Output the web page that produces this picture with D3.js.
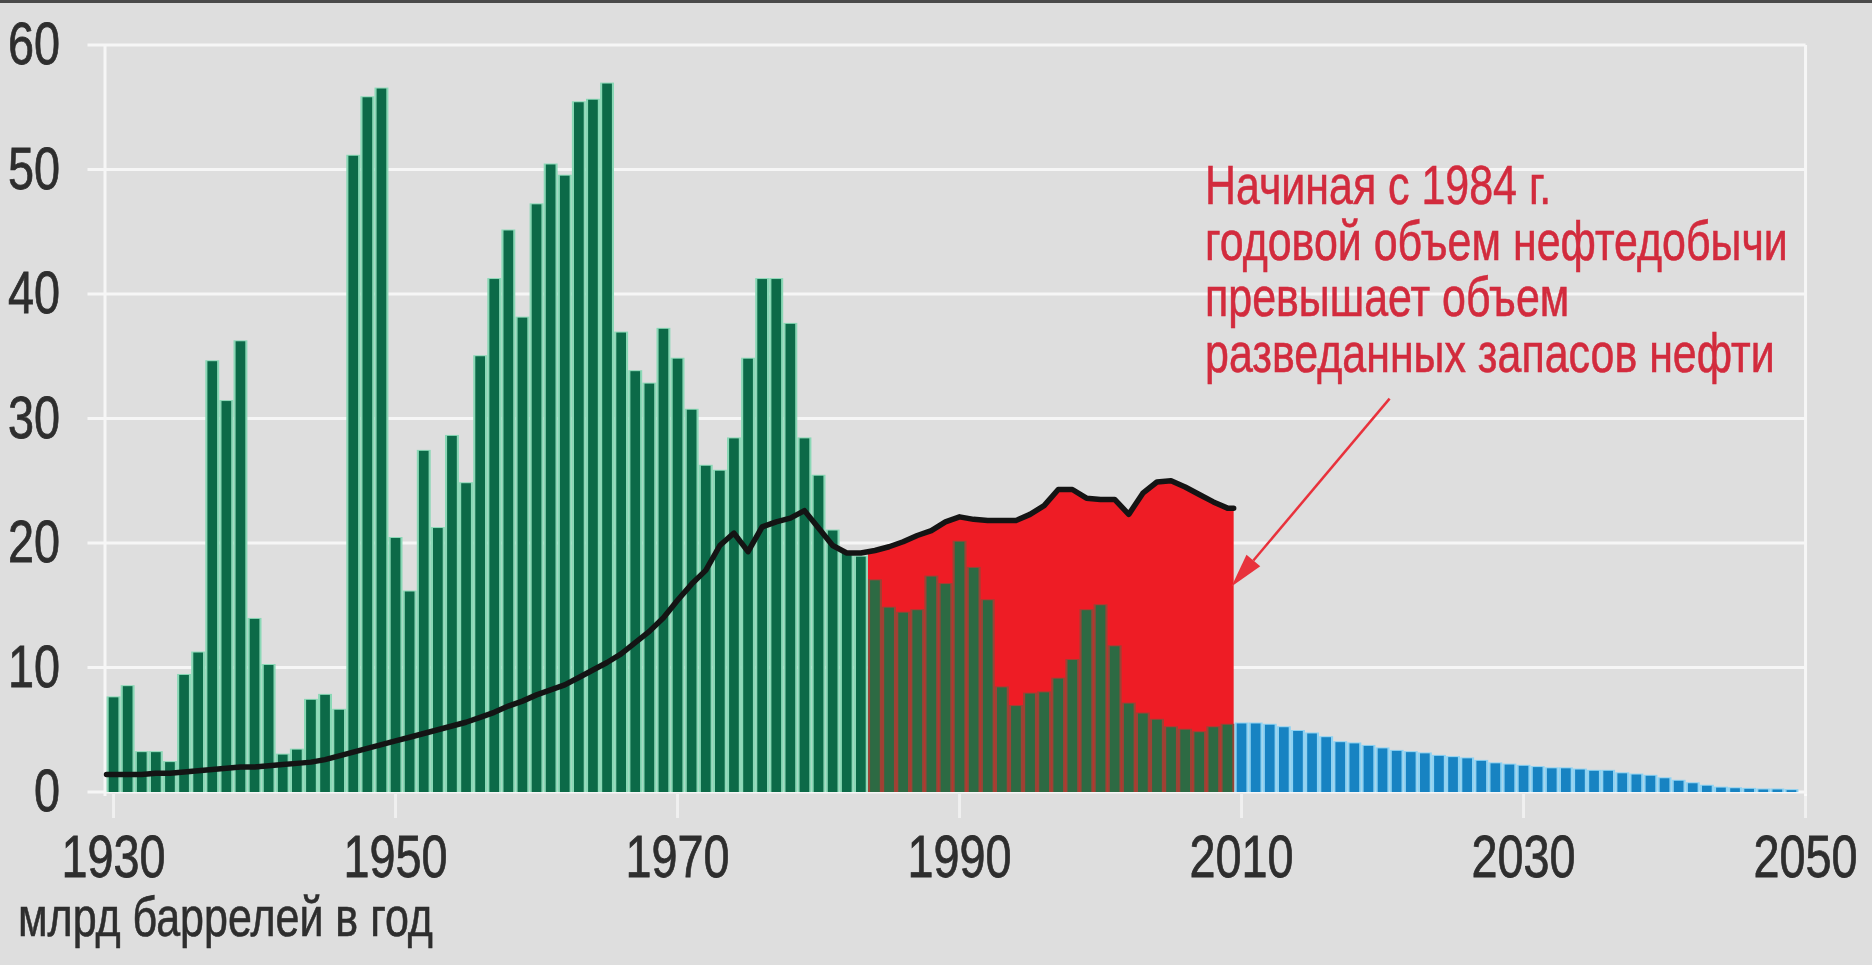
<!DOCTYPE html>
<html><head><meta charset="utf-8">
<script src="https://cdn.jsdelivr.net/npm/d3@7/dist/d3.min.js"></script>
<style>html,body{margin:0;padding:0;background:#dedede;overflow:hidden}</style>
</head><body><svg id="c" width="1872" height="965"></svg>
<script>
// ---------- data ----------
const discoveryYears = d3.range(1930, 1984);
const discoveries = [7.6, 8.5, 3.2, 3.2, 2.4, 9.4, 11.2, 34.6, 31.4, 36.2,
  13.9, 10.2, 3.0, 3.4, 7.4, 7.8, 6.6, 51.1, 55.8, 56.5,
  20.4, 16.1, 27.4, 21.2, 28.6, 24.8, 35.0, 41.2, 45.1, 38.1,
  47.2, 50.4, 49.5, 55.4, 55.6, 56.9, 36.9, 33.8, 32.8, 37.2,
  34.8, 30.7, 26.2, 25.8, 28.4, 34.8, 41.2, 41.2, 37.6, 28.4,
  25.4, 21.0, 19.2, 18.9];
const deficitYears = d3.range(1984, 2010);
const deficitDiscoveries = [17.0, 14.8, 14.4, 14.6, 17.3, 16.7, 20.1, 18.0, 15.4, 8.4,
  6.9, 7.9, 8.0, 9.1, 10.6, 14.6, 15.0, 11.7, 7.1, 6.3,
  5.8, 5.2, 5.0, 4.8, 5.2, 5.4];
const forecastYears = d3.range(2010, 2050);
const forecastDiscoveries = [5.5, 5.5, 5.4, 5.2, 4.9, 4.7, 4.4, 4.0, 3.9, 3.7,
  3.5, 3.3, 3.2, 3.1, 2.9, 2.8, 2.7, 2.5, 2.3, 2.2,
  2.1, 2.0, 1.9, 1.9, 1.8, 1.7, 1.7, 1.5, 1.4, 1.3,
  1.1, 0.9, 0.7, 0.5, 0.35, 0.3, 0.25, 0.2, 0.2, 0.15];
const productionYears = d3.range(1930, 2010);
const production = [1.4, 1.4, 1.4, 1.5, 1.5, 1.6, 1.7, 1.8, 1.9, 2.0,
  2.0, 2.1, 2.2, 2.3, 2.4, 2.6, 2.9, 3.2, 3.5, 3.8,
  4.1, 4.4, 4.7, 5.0, 5.3, 5.6, 6.0, 6.4, 6.9, 7.3,
  7.8, 8.2, 8.6, 9.2, 9.8, 10.4, 11.1, 12.0, 12.9, 14.0,
  15.4, 16.7, 17.8, 19.8, 20.8, 19.3, 21.3, 21.7, 22.0, 22.6,
  21.2, 19.8, 19.2, 19.2, 19.4, 19.7, 20.1, 20.6, 21.0, 21.7,
  22.1, 21.9, 21.8, 21.8, 21.8, 22.3, 23.0, 24.3, 24.3, 23.6,
  23.5, 23.5, 22.3, 24.0, 24.9, 25.0, 24.5, 23.9, 23.3, 22.8];
const yTicks = [0, 10, 20, 30, 40, 50, 60];
const xTicks = [1930, 1950, 1970, 1990, 2010, 2030, 2050];
const unitLabel = "млрд баррелей в год";
const noteLines = ["Начиная с 1984 г.", "годовой объем нефтедобычи", "превышает объем", "разведанных запасов нефти"];
const deficitStart = 1984;

// ---------- chart ----------
const svg = d3.select("#c");
const FONT = "'Liberation Sans', Arial, sans-serif";
const x = d3.scaleLinear().domain([1930, 2051]).range([106.5, 1812.6]);
const y = d3.scaleLinear().domain([0, 60]).range([792, 45]);
const band = x(1931) - x(1930);

svg.append("rect").attr("width", 1872).attr("height", 965).attr("fill", "#dedede");
svg.append("rect").attr("width", 1872).attr("height", 3).attr("fill", "#4a4a4a");

const plotLeft = x(1930) - 19, plotRight = x(2050.5);
svg.append("g").selectAll("line").data(yTicks).join("line")
  .attr("x1", plotLeft).attr("x2", plotRight)
  .attr("y1", d => y(d)).attr("y2", d => y(d))
  .attr("stroke", "#f6f6f6").attr("stroke-width", 3);
svg.append("g").selectAll("line").data([x(1930) - 1.5, plotRight]).join("line")
  .attr("x1", d => d).attr("x2", d => d)
  .attr("y1", y(60)).attr("y2", y(0) + 4)
  .attr("stroke", "#f6f6f6").attr("stroke-width", 3);
svg.append("g").selectAll("line").data(xTicks).join("line")
  .attr("x1", d => x(d + 0.5)).attr("x2", d => x(d + 0.5))
  .attr("y1", y(0) + 2).attr("y2", y(0) + 26)
  .attr("stroke", "#ffffff").attr("stroke-opacity", 0.55).attr("stroke-width", 3);

// red deficit area (behind bars)
const defPts = [[deficitStart, production[productionYears.indexOf(deficitStart)]]];
productionYears.forEach((yr, i) => { if (yr >= deficitStart) defPts.push([yr + 0.5, production[i]]); });
defPts.push([productionYears[productionYears.length - 1] + 0.94, production[production.length - 1]]);
svg.append("path").datum(defPts)
  .attr("d", d3.area().x(d => x(d[0])).y0(y(0)).y1(d => y(d[1])))
  .attr("fill", "#ee1c25");

function bars(years, vals, outer, inner) {
  const g = svg.append("g");
  const data = years.map((yr, i) => ({yr, v: vals[i]}));
  g.selectAll("rect.o").data(data).join("rect").attr("class", "o")
    .attr("x", d => x(d.yr) + 0.1).attr("width", band - 0.2)
    .attr("y", d => y(d.v) - 1).attr("height", d => y(0) - y(d.v) + 1)
    .attr("fill", outer);
  g.selectAll("rect.i").data(data).join("rect").attr("class", "i")
    .attr("x", d => x(d.yr) + 2.2).attr("width", band - 4.4)
    .attr("y", d => y(d.v)).attr("height", d => y(0) - y(d.v))
    .attr("fill", inner);
}
bars(discoveryYears, discoveries, "#8ad8b6", "#0c6a48");
bars(deficitYears, deficitDiscoveries, "#9a4436", "#2d6a43");
bars(forecastYears, forecastDiscoveries, "#8dd2f2", "#1783c2");

// production line
const linePts = [[productionYears[0], production[0]]];
productionYears.forEach((yr, i) => linePts.push([yr + 0.5, production[i]]));
linePts.push([productionYears[productionYears.length - 1] + 0.94, production[production.length - 1]]);
svg.append("path").datum(linePts)
  .attr("d", d3.line().x(d => x(d[0])).y(d => y(d[1])))
  .attr("fill", "none").attr("stroke", "#141414").attr("stroke-width", 5.5)
  .attr("stroke-linejoin", "round").attr("stroke-linecap", "round");

// y labels
svg.append("g").selectAll("text").data(yTicks).join("text")
  .attr("transform", d => `translate(60,${y(d) + 19}) scale(0.78,1)`)
  .attr("text-anchor", "end").attr("font-family", FONT).attr("font-size", 60)
  .attr("fill", "#2e2e2e").attr("stroke", "#2e2e2e").attr("stroke-width", 0.8).text(d => d);
// x labels
svg.append("g").selectAll("text").data(xTicks).join("text")
  .attr("transform", d => `translate(${x(d + 0.5)},877) scale(0.78,1)`)
  .attr("text-anchor", "middle").attr("font-family", FONT).attr("font-size", 60)
  .attr("fill", "#2e2e2e").attr("stroke", "#2e2e2e").attr("stroke-width", 0.8).text(d => d);

// unit label
const unit = svg.append("text").attr("font-family", FONT).attr("font-size", 53)
  .attr("fill", "#2e2e2e").attr("stroke", "#2e2e2e").attr("stroke-width", 0.6).text(unitLabel);
const uw = unit.node().getComputedTextLength();
unit.attr("transform", `translate(18,936) scale(${415 / uw},1.04)`);

// annotation
const note = svg.append("g").attr("fill", "#d22b3d").attr("stroke", "#d22b3d").attr("stroke-width", 0.6)
  .attr("font-family", FONT).attr("font-size", 55);
const noteTexts = note.selectAll("text").data(noteLines).join("text").text(d => d);
const widest = d3.max(noteTexts.nodes(), n => n.getComputedTextLength());
const ns = 583 / widest;
const baselines = [204, 260, 316, 372];
noteTexts.attr("transform", (d, i) => `translate(1205,${baselines[i]}) scale(${ns},1)`);

// arrow
const start = [x(2021), y(31.6)], tip = [x(2010) - 3, y(16.5)];
const dx = tip[0] - start[0], dy = tip[1] - start[1], L = Math.hypot(dx, dy);
const ux = dx / L, uy = dy / L, px = -uy, py = ux;
const head = 34, hw = 9;
const base = [tip[0] - ux * head, tip[1] - uy * head];
svg.append("line").attr("x1", start[0]).attr("y1", start[1]).attr("x2", base[0]).attr("y2", base[1])
  .attr("stroke", "#e8323c").attr("stroke-width", 2.5);
svg.append("path")
  .attr("d", `M${tip[0]},${tip[1]}L${base[0] + px * hw},${base[1] + py * hw}L${base[0] - px * hw},${base[1] - py * hw}Z`)
  .attr("fill", "#e8323c");
</script></body></html>
